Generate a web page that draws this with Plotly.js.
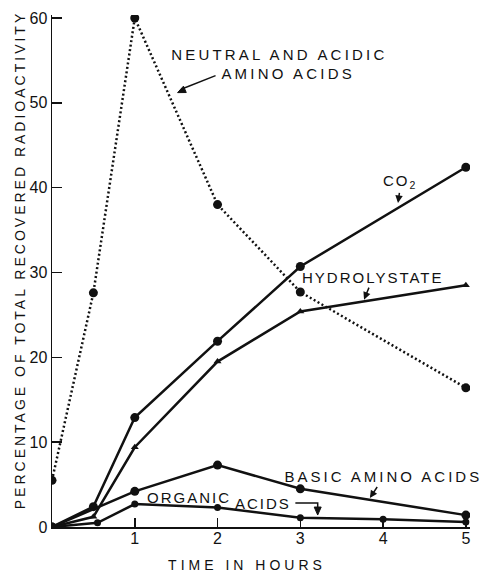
<!DOCTYPE html>
<html>
<head>
<meta charset="utf-8">
<script src="https://cdn.plot.ly/plotly-3.0.1.min.js"></script>
<style>
html,body{margin:0;padding:0;background:#fff;}
#chart{width:488px;height:573px;}
.js-plotly-plot .annotation-text{letter-spacing:2px;}
.js-plotly-plot g.annotation[data-index="0"] .annotation-text{letter-spacing:3.2px;}
.js-plotly-plot g.annotation[data-index="1"] .annotation-text{letter-spacing:3.2px;}
.js-plotly-plot g.annotation[data-index="4"] .annotation-text{letter-spacing:3px;}
.js-plotly-plot .ytitle{letter-spacing:3px;}
.js-plotly-plot .xtitle{letter-spacing:4px;}
</style>
</head>
<body>
<div id="chart"></div>
<script>
// Data (time in hours, percentage of radioactivity)
var neutralX = [0, 0.5, 1, 2, 3, 5];
var neutralY = [5.5, 27.6, 60, 38, 27.7, 16.4];

var co2X = [0, 0.5, 1, 2, 3, 5];
var co2Y = [0, 2.4, 12.9, 21.9, 30.7, 42.4];

var hydroX = [0, 0.5, 1, 2, 3, 5];
var hydroY = [0, 1.2, 9.4, 19.5, 25.4, 28.5];

var basicX = [0, 1, 2, 3, 5];
var basicY = [0, 4.2, 7.3, 4.5, 1.4];

var organicX = [0, 0.55, 1, 2, 3, 4, 5];
var organicY = [0, 0.5, 2.7, 2.3, 1.1, 0.9, 0.6];

var xTicks = [1, 2, 3, 4, 5];
var yTicks = [0, 10, 20, 30, 40, 50, 60];

var xTitle = 'TIME IN HOURS';
var yTitle = 'PERCENTAGE OF TOTAL RECOVERED RADIOACTIVITY';

var FONT = 'Liberation Sans, Arial, sans-serif';
var black = '#111';

var traces = [
  {x: neutralX, y: neutralY, mode: 'lines+markers', name: 'Neutral and acidic amino acids',
   line: {color: black, width: 2.5, dash: '2px,2.5px'}, marker: {color: black, size: 9, symbol: 'circle'}},
  {x: co2X, y: co2Y, mode: 'lines+markers', name: 'CO2',
   line: {color: black, width: 2.5}, marker: {color: black, size: 9, symbol: 'circle'}},
  {x: hydroX, y: hydroY, mode: 'lines+markers', name: 'Hydrolysate',
   line: {color: black, width: 2.5}, marker: {color: black, size: 7, symbol: 'triangle-up'}},
  {x: basicX, y: basicY, mode: 'lines+markers', name: 'Basic amino acids',
   line: {color: black, width: 2.5}, marker: {color: black, size: 9, symbol: 'circle'}},
  {x: organicX, y: organicY, mode: 'lines+markers', name: 'Organic acids',
   line: {color: black, width: 2.5}, marker: {color: black, size: 7, symbol: 'circle'}}
];

var txt = function(text, x, y) {
  return {text: text, x: x, y: y, xref: 'x', yref: 'y', showarrow: false,
          font: {family: FONT, size: 15, color: black}, xanchor: 'center', yanchor: 'middle'};
};
// label with an arrow: (x,y) is the arrow head, (ax,ay) pixel offset of the label centre
var lab = function(text, x, y, ax, ay) {
  return {text: text, x: x, y: y, xref: 'x', yref: 'y', ax: ax, ay: ay, showarrow: true,
          arrowhead: 2, arrowsize: 1, arrowwidth: 1.5, arrowcolor: black, standoff: 0, startstandoff: 0,
          font: {family: FONT, size: 15, color: black}};
};

var annotations = [
  txt('NEUTRAL AND ACIDIC', 2.75, 55.7),          // 0
  txt('AMINO ACIDS', 2.85, 53.5),                 // 1
  lab('CO<sub>2</sub>', 4.18, 38.2, 3, -21),      // 2
  lab('HYDROLYSTATE', 3.77, 26.8, 9, -22),        // 3
  lab('BASIC AMINO ACIDS', 3.84, 3.42, 14, -21),  // 4
  txt('ORGANIC', 1.66, 3.5),                      // 5
  txt('ACIDS', 2.55, 2.8)                         // 6
];

// pointer arrows drawn as shapes (line + small filled head anchored at the tip)
var headShape = function(x, y, path) {
  return {type: 'path', xref: 'x', yref: 'y', xsizemode: 'pixel', ysizemode: 'pixel',
          xanchor: x, yanchor: y, path: path, fillcolor: black, line: {color: black, width: 1}};
};
var shapes = [
  {type: 'line', xref: 'x', yref: 'y', x0: 1.976, y0: 53.2, x1: 1.56, y1: 51.6,
   line: {color: black, width: 1.5}},
  headShape(1.517, 51.2, 'M0,0 L8.7,0.1 L5.9,6.5 Z'),
  {type: 'path', xref: 'x', yref: 'y', path: 'M2.94,2.83 L3.21,2.83 L3.21,2.0',
   line: {color: black, width: 1.5}},
  headShape(3.21, 1.41, 'M0,0 L-3.5,8 L3.5,8 Z')
];

var layout = {
  width: 488, height: 573,
  margin: {l: 52, r: 18, t: 15, b: 46},
  paper_bgcolor: '#fff', plot_bgcolor: '#fff',
  showlegend: false,
  font: {family: FONT, color: black},
  xaxis: {
    range: [0, 5.05], tickvals: xTicks, ticktext: xTicks.map(String),
    ticks: 'inside', ticklen: 9, tickwidth: 1.5, tickcolor: black,
    showline: true, linecolor: black, linewidth: 2, showgrid: false, zeroline: false,
    tickfont: {family: FONT, size: 16, color: black}, ticklabelstandoff: -4, fixedrange: true,
    title: {text: xTitle, font: {family: FONT, size: 14, color: black}, standoff: 12},
    automargin: false
  },
  yaxis: {
    range: [0, 60.35], tickvals: yTicks, ticktext: yTicks.map(String),
    ticks: 'inside', ticklen: 10, tickwidth: 1.5, tickcolor: black,
    showline: true, linecolor: black, linewidth: 1.5, showgrid: false, zeroline: false,
    tickfont: {family: FONT, size: 16, color: black}, ticklabelstandoff: 0, fixedrange: true,
    title: {text: yTitle, font: {family: FONT, size: 14, color: black}, standoff: 8},
    automargin: false
  },
  annotations: annotations,
  shapes: shapes
};

// target centres of the axis titles in the reference (pixels)
var xTitleCx = 247, xTitleCy = 565, yTitleCx = 20, yTitleCy = 260;

Plotly.newPlot('chart', traces, layout, {staticPlot: true, displayModeBar: false}).then(function(gd) {
  var xt = gd.querySelector('.xtitle');
  if (xt) {
    var bb = xt.getBBox();
    var dx = xTitleCx - (bb.x + bb.width / 2), dy = xTitleCy - (bb.y + bb.height / 2);
    xt.setAttribute('transform', 'translate(' + dx + ',' + dy + ')');
  }
  var yt = gd.querySelector('.ytitle');
  if (yt) {
    var r = yt.getBoundingClientRect();
    var host = gd.getBoundingClientRect();
    var cx = r.left - host.left + r.width / 2, cy = r.top - host.top + r.height / 2;
    var old = yt.getAttribute('transform') || '';
    yt.setAttribute('transform', 'translate(' + (yTitleCx - cx) + ',' + (yTitleCy - cy) + ') ' + old);
  }
});
</script>
</body>
</html>
